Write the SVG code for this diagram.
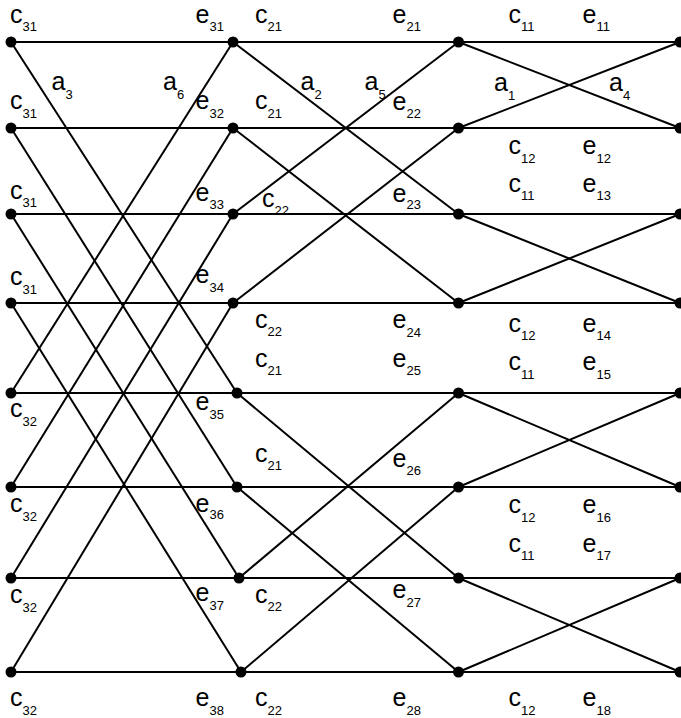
<svg xmlns="http://www.w3.org/2000/svg" width="681" height="718" viewBox="0 0 681 718">
<style>
.e{stroke:#000;stroke-width:2;fill:none}
.n{fill:#000}
text{font-family:"Liberation Sans",Arial,sans-serif;font-size:25px;fill:#000}
.s{font-size:13px}
</style>
<rect width="681" height="718" fill="#fff"/>
<g id="connectors" class="e">
<path d="M11 42H233H458.5H680"/>
<path d="M11 128H233H458.5H680"/>
<path d="M11 214H233H458.5H680"/>
<path d="M11 303H233H458.5H680"/>
<path d="M11 393H237H458.5H680"/>
<path d="M11 487H237H458.5H680"/>
<path d="M11 578H239H458.5H680"/>
<path d="M11 672H241H458.5H680"/>
<path d="M11 42L237 393"/>
<path d="M11 128L237 487"/>
<path d="M11 214L239 578"/>
<path d="M11 303L241 672"/>
<path d="M11 393L233 42"/>
<path d="M11 487L233 128"/>
<path d="M11 578L233 214"/>
<path d="M11 672L233 303"/>
<path d="M233 42L458.5 214"/>
<path d="M233 214L458.5 42"/>
<path d="M233 128L458.5 303"/>
<path d="M233 303L458.5 128"/>
<path d="M237 393L458.5 578"/>
<path d="M239 578L458.5 393"/>
<path d="M237 487L458.5 672"/>
<path d="M241 672L458.5 487"/>
<path d="M458.5 42L680 128"/>
<path d="M458.5 128L680 42"/>
<path d="M458.5 214L680 303"/>
<path d="M458.5 303L680 214"/>
<path d="M458.5 393L680 487"/>
<path d="M458.5 487L680 393"/>
<path d="M458.5 578L680 672"/>
<path d="M458.5 672L680 578"/>
</g>
<g id="n0_1"><circle class="n" cx="11" cy="42" r="5.5"/></g>
<g id="n0_2"><circle class="n" cx="11" cy="128" r="5.5"/></g>
<g id="n0_3"><circle class="n" cx="11" cy="214" r="5.5"/></g>
<g id="n0_4"><circle class="n" cx="11" cy="303" r="5.5"/></g>
<g id="n0_5"><circle class="n" cx="11" cy="393" r="5.5"/></g>
<g id="n0_6"><circle class="n" cx="11" cy="487" r="5.5"/></g>
<g id="n0_7"><circle class="n" cx="11" cy="578" r="5.5"/></g>
<g id="n0_8"><circle class="n" cx="11" cy="672" r="5.5"/></g>
<g id="n1_1"><circle class="n" cx="233" cy="42" r="5.5"/></g>
<g id="n1_2"><circle class="n" cx="233" cy="128" r="5.5"/></g>
<g id="n1_3"><circle class="n" cx="233" cy="214" r="5.5"/></g>
<g id="n1_4"><circle class="n" cx="233" cy="303" r="5.5"/></g>
<g id="n1_5"><circle class="n" cx="237" cy="393" r="5.5"/></g>
<g id="n1_6"><circle class="n" cx="237" cy="487" r="5.5"/></g>
<g id="n1_7"><circle class="n" cx="239" cy="578" r="5.5"/></g>
<g id="n1_8"><circle class="n" cx="241" cy="672" r="5.5"/></g>
<g id="n2_1"><circle class="n" cx="458.5" cy="42" r="5.5"/></g>
<g id="n2_2"><circle class="n" cx="458.5" cy="128" r="5.5"/></g>
<g id="n2_3"><circle class="n" cx="458.5" cy="214" r="5.5"/></g>
<g id="n2_4"><circle class="n" cx="458.5" cy="303" r="5.5"/></g>
<g id="n2_5"><circle class="n" cx="458.5" cy="393" r="5.5"/></g>
<g id="n2_6"><circle class="n" cx="458.5" cy="487" r="5.5"/></g>
<g id="n2_7"><circle class="n" cx="458.5" cy="578" r="5.5"/></g>
<g id="n2_8"><circle class="n" cx="458.5" cy="672" r="5.5"/></g>
<g id="n3_1"><circle class="n" cx="680" cy="42" r="5.5"/></g>
<g id="n3_2"><circle class="n" cx="680" cy="128" r="5.5"/></g>
<g id="n3_3"><circle class="n" cx="680" cy="214" r="5.5"/></g>
<g id="n3_4"><circle class="n" cx="680" cy="303" r="5.5"/></g>
<g id="n3_5"><circle class="n" cx="680" cy="393" r="5.5"/></g>
<g id="n3_6"><circle class="n" cx="680" cy="487" r="5.5"/></g>
<g id="n3_7"><circle class="n" cx="680" cy="578" r="5.5"/></g>
<g id="n3_8"><circle class="n" cx="680" cy="672" r="5.5"/></g>
<g id="labels">
<text x="10" y="23">c<tspan class="s" dy="8">31</tspan></text>
<text x="10" y="109">c<tspan class="s" dy="8.5">31</tspan></text>
<text x="10" y="199">c<tspan class="s" dy="8">31</tspan></text>
<text x="10" y="285">c<tspan class="s" dy="8.5">31</tspan></text>
<text x="10" y="417">c<tspan class="s" dy="9">32</tspan></text>
<text x="10" y="512">c<tspan class="s" dy="9">32</tspan></text>
<text x="10" y="603">c<tspan class="s" dy="8.5">32</tspan></text>
<text x="10" y="706">c<tspan class="s" dy="8.5">32</tspan></text>
<text x="51.5" y="90">a<tspan class="s" dy="9">3</tspan></text>
<text x="163" y="90">a<tspan class="s" dy="9">6</tspan></text>
<text x="195.5" y="23">e<tspan class="s" dy="8">31</tspan></text>
<text x="195.5" y="109">e<tspan class="s" dy="8.5">32</tspan></text>
<text x="195.5" y="201">e<tspan class="s" dy="7.5">33</tspan></text>
<text x="195.5" y="283">e<tspan class="s" dy="9">34</tspan></text>
<text x="195.5" y="410">e<tspan class="s" dy="9">35</tspan></text>
<text x="195.5" y="512">e<tspan class="s" dy="6.5">36</tspan></text>
<text x="195.5" y="601">e<tspan class="s" dy="8.5">37</tspan></text>
<text x="195.5" y="706">e<tspan class="s" dy="8.5">38</tspan></text>
<text x="255" y="23">c<tspan class="s" dy="8">21</tspan></text>
<text x="255" y="109">c<tspan class="s" dy="8.5">21</tspan></text>
<text x="262" y="207">c<tspan class="s" dy="7.5">22</tspan></text>
<text x="255" y="328">c<tspan class="s" dy="7.5">22</tspan></text>
<text x="255" y="367">c<tspan class="s" dy="8">21</tspan></text>
<text x="255" y="462">c<tspan class="s" dy="8">21</tspan></text>
<text x="255" y="603">c<tspan class="s" dy="7.5">22</tspan></text>
<text x="255" y="706">c<tspan class="s" dy="8.5">22</tspan></text>
<text x="300.5" y="90">a<tspan class="s" dy="9">2</tspan></text>
<text x="364.5" y="90">a<tspan class="s" dy="9">5</tspan></text>
<text x="392.5" y="23">e<tspan class="s" dy="8">21</tspan></text>
<text x="392.5" y="110">e<tspan class="s" dy="7.5">22</tspan></text>
<text x="392.5" y="202">e<tspan class="s" dy="6.5">23</tspan></text>
<text x="392.5" y="328">e<tspan class="s" dy="8.5">24</tspan></text>
<text x="392.5" y="367">e<tspan class="s" dy="8">25</tspan></text>
<text x="392.5" y="467">e<tspan class="s" dy="8">26</tspan></text>
<text x="392.5" y="598">e<tspan class="s" dy="8.5">27</tspan></text>
<text x="392.5" y="706">e<tspan class="s" dy="8.5">28</tspan></text>
<text x="494" y="91">a<tspan class="s" dy="8.5">1</tspan></text>
<text x="609" y="91">a<tspan class="s" dy="8.5">4</tspan></text>
<text x="508.5" y="23">c<tspan class="s" dy="8">11</tspan></text>
<text x="508.5" y="154">c<tspan class="s" dy="8.5">12</tspan></text>
<text x="508.5" y="192">c<tspan class="s" dy="8">11</tspan></text>
<text x="508.5" y="332">c<tspan class="s" dy="8">12</tspan></text>
<text x="508.5" y="370">c<tspan class="s" dy="9">11</tspan></text>
<text x="508.5" y="513">c<tspan class="s" dy="9">12</tspan></text>
<text x="508.5" y="552">c<tspan class="s" dy="8">11</tspan></text>
<text x="508.5" y="706">c<tspan class="s" dy="8.5">12</tspan></text>
<text x="582.5" y="23">e<tspan class="s" dy="8">11</tspan></text>
<text x="582.5" y="154">e<tspan class="s" dy="8.5">12</tspan></text>
<text x="582.5" y="192">e<tspan class="s" dy="8">13</tspan></text>
<text x="582.5" y="332">e<tspan class="s" dy="8">14</tspan></text>
<text x="582.5" y="370">e<tspan class="s" dy="9">15</tspan></text>
<text x="582.5" y="513">e<tspan class="s" dy="9">16</tspan></text>
<text x="582.5" y="552">e<tspan class="s" dy="8">17</tspan></text>
<text x="582.5" y="706">e<tspan class="s" dy="8.5">18</tspan></text>
</g>
</svg>
